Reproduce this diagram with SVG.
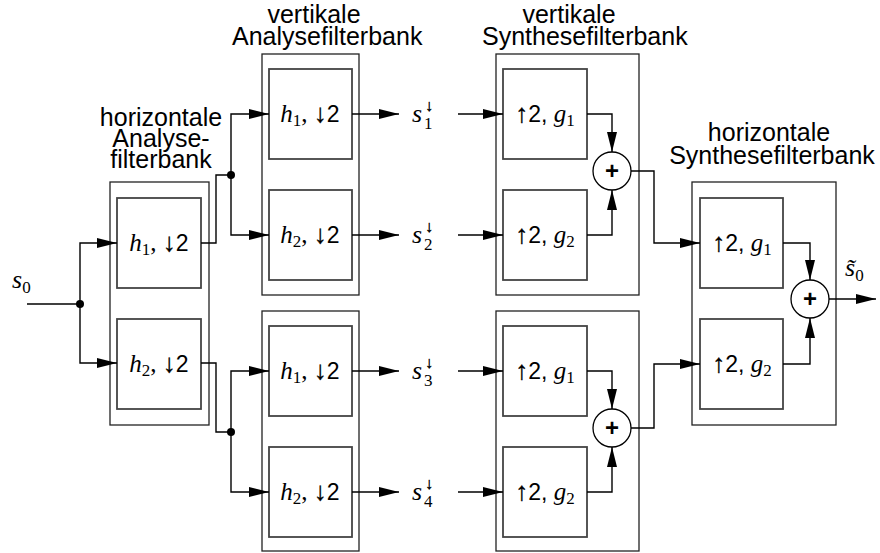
<svg xmlns="http://www.w3.org/2000/svg" width="880" height="553" viewBox="0 0 880 553">
  <defs>
    <marker id="ah" markerUnits="userSpaceOnUse" markerWidth="21" markerHeight="11" refX="20" refY="5" orient="auto" overflow="visible">
      <path d="M0,0 L20,5 L0,10 Z" fill="#000"/>
    </marker>
    <style>
      .outer { fill: #fff; stroke: #222; stroke-width: 1.3; }
      .inner { fill: #fff; stroke: #444; stroke-width: 1.8; }
      .sum { fill: #fff; stroke: #000; stroke-width: 1.3; }
      .wire { fill: none; stroke: #000; stroke-width: 1.4; }
      .arr { fill: none; stroke: #000; stroke-width: 1.4; marker-end: url(#ah); }
      .dot { fill: #000; }
      .title { font-family: "Liberation Sans", Arial, sans-serif; font-size: 25px; fill: #000; }
      .mid { text-anchor: middle; }
      .lbl { font-family: "Liberation Sans", Arial, sans-serif; font-size: 23px; fill: #000; text-anchor: middle; }
      .mi { font-family: "Liberation Serif", "Times New Roman", serif; font-style: italic; font-size: 25px; }
      .mr { font-family: "Liberation Serif", "Times New Roman", serif; font-size: 25px; }
      .sub { font-family: "Liberation Serif", "Times New Roman", serif; font-size: 17px; }
      .ar { font-family: "Liberation Serif", "DejaVu Serif", serif; font-size: 26px; stroke: #000; stroke-width: 0.35; }
      .sig { font-family: "Liberation Serif", "Times New Roman", serif; fill: #000; }
      .sup { font-family: "Liberation Serif", "DejaVu Serif", serif; font-size: 16px; fill: #000; stroke: #000; stroke-width: 0.4; }
      .plus { font-family: "Liberation Sans", Arial, sans-serif; font-weight: bold; font-size: 24px; fill: #000; text-anchor: middle; }
    </style>
  </defs>

  <!-- horizontal analysis filter bank -->
  <g id="h-analyse">
    <text class="title mid" x="161" y="126" font-size="24">horizontale</text>
    <text class="title mid" x="161" y="147" font-size="24">Analyse-</text>
    <text class="title mid" x="161" y="168" font-size="24">filterbank</text>
    <rect class="outer" x="110" y="182" width="99" height="243"/>
    <rect class="inner" x="117" y="198" width="84" height="90"/>
    <rect class="inner" x="117" y="319" width="84" height="90"/>
    <text class="lbl" x="159" y="251"><tspan class="mi">h</tspan><tspan class="sub" dy="4">1</tspan><tspan class="mr" dy="-4">, </tspan><tspan class="ar">↓</tspan>2</text>
    <text class="lbl" x="159" y="372"><tspan class="mi">h</tspan><tspan class="sub" dy="4">2</tspan><tspan class="mr" dy="-4">, </tspan><tspan class="ar">↓</tspan>2</text>
  </g>

  <!-- vertical analysis filter bank, upper branch -->
  <g id="v-analyse-1">
    <text class="title mid" x="314" y="23">vertikale</text>
    <text class="title" x="232" y="45">Analysefilterbank</text>
    <rect class="outer" x="262" y="54" width="97" height="241"/>
    <rect class="inner" x="269" y="69" width="83" height="90"/>
    <rect class="inner" x="269" y="190" width="83" height="90"/>
    <text class="lbl" x="310" y="122"><tspan class="mi">h</tspan><tspan class="sub" dy="4">1</tspan><tspan class="mr" dy="-4">, </tspan><tspan class="ar">↓</tspan>2</text>
    <text class="lbl" x="310" y="243"><tspan class="mi">h</tspan><tspan class="sub" dy="4">2</tspan><tspan class="mr" dy="-4">, </tspan><tspan class="ar">↓</tspan>2</text>
  </g>

  <!-- vertical analysis filter bank, lower branch -->
  <g id="v-analyse-2">
    <rect class="outer" x="262" y="311" width="97" height="240"/>
    <rect class="inner" x="269" y="326" width="83" height="90"/>
    <rect class="inner" x="269" y="447" width="83" height="90"/>
    <text class="lbl" x="310" y="379"><tspan class="mi">h</tspan><tspan class="sub" dy="4">1</tspan><tspan class="mr" dy="-4">, </tspan><tspan class="ar">↓</tspan>2</text>
    <text class="lbl" x="310" y="500"><tspan class="mi">h</tspan><tspan class="sub" dy="4">2</tspan><tspan class="mr" dy="-4">, </tspan><tspan class="ar">↓</tspan>2</text>
  </g>

  <!-- subband signals -->
  <g id="subbands">
    <text class="sig" font-size="26" font-style="italic" x="412" y="122">s</text>
    <text class="sup" x="425" y="111">↓</text>
    <text class="sig" font-size="17" x="424" y="129">1</text>
    <text class="sig" font-size="26" font-style="italic" x="412" y="243">s</text>
    <text class="sup" x="425" y="232">↓</text>
    <text class="sig" font-size="17" x="424" y="250">2</text>
    <text class="sig" font-size="26" font-style="italic" x="412" y="379">s</text>
    <text class="sup" x="425" y="368">↓</text>
    <text class="sig" font-size="17" x="424" y="386">3</text>
    <text class="sig" font-size="26" font-style="italic" x="412" y="500">s</text>
    <text class="sup" x="425" y="489">↓</text>
    <text class="sig" font-size="17" x="424" y="507">4</text>
  </g>

  <!-- vertical synthesis filter bank, upper branch -->
  <g id="v-synthese-1">
    <text class="title mid" x="569" y="23">vertikale</text>
    <text class="title" x="482" y="45">Synthesefilterbank</text>
    <rect class="outer" x="496" y="54" width="143" height="241"/>
    <rect class="inner" x="503" y="69" width="84" height="90"/>
    <rect class="inner" x="503" y="190" width="84" height="90"/>
    <text class="lbl" x="545" y="122"><tspan class="ar">↑</tspan>2, <tspan class="mi">g</tspan><tspan class="sub" dy="4">1</tspan></text>
    <text class="lbl" x="545" y="243"><tspan class="ar">↑</tspan>2, <tspan class="mi">g</tspan><tspan class="sub" dy="4">2</tspan></text>
    <circle class="sum" cx="612" cy="171" r="19"/>
    <text class="plus" x="612" y="179">+</text>
  </g>

  <!-- vertical synthesis filter bank, lower branch -->
  <g id="v-synthese-2">
    <rect class="outer" x="496" y="311" width="143" height="240"/>
    <rect class="inner" x="503" y="326" width="84" height="90"/>
    <rect class="inner" x="503" y="447" width="84" height="90"/>
    <text class="lbl" x="545" y="379"><tspan class="ar">↑</tspan>2, <tspan class="mi">g</tspan><tspan class="sub" dy="4">1</tspan></text>
    <text class="lbl" x="545" y="500"><tspan class="ar">↑</tspan>2, <tspan class="mi">g</tspan><tspan class="sub" dy="4">2</tspan></text>
    <circle class="sum" cx="612" cy="428" r="19"/>
    <text class="plus" x="612" y="436">+</text>
  </g>

  <!-- horizontal synthesis filter bank -->
  <g id="h-synthese">
    <text class="title mid" x="769" y="141">horizontale</text>
    <text class="title mid" x="772" y="164">Synthesefilterbank</text>
    <rect class="outer" x="692" y="182" width="144" height="243"/>
    <rect class="inner" x="700" y="198" width="83" height="90"/>
    <rect class="inner" x="700" y="319" width="83" height="90"/>
    <text class="lbl" x="742" y="251"><tspan class="ar">↑</tspan>2, <tspan class="mi">g</tspan><tspan class="sub" dy="4">1</tspan></text>
    <text class="lbl" x="742" y="372"><tspan class="ar">↑</tspan>2, <tspan class="mi">g</tspan><tspan class="sub" dy="4">2</tspan></text>
    <circle class="sum" cx="810" cy="299" r="19"/>
    <text class="plus" x="810" y="307">+</text>
  </g>

  <!-- input and output signals -->
  <g id="signals">
    <text class="sig" x="12" y="288"><tspan font-size="26" font-style="italic">s</tspan><tspan font-size="17" dy="5">0</tspan></text>
    <text class="sig" x="845" y="276"><tspan font-size="26" font-style="italic">s̃</tspan><tspan font-size="17" dy="5">0</tspan></text>
  </g>

  <!-- connectors -->
  <g id="connectors">
    <path class="wire" d="M27,304 H80"/>
    <path class="arr" d="M80,304 V243 H117"/>
    <path class="arr" d="M80,304 V363 H117"/>
    <circle class="dot" cx="80" cy="304" r="4"/>

    <path class="wire" d="M201,243 H216 V175 H231"/>
    <path class="arr" d="M231,175 V114 H269"/>
    <path class="arr" d="M231,175 V235 H269"/>
    <circle class="dot" cx="231" cy="175" r="4"/>

    <path class="wire" d="M201,363 H216 V432 H231"/>
    <path class="arr" d="M231,432 V371 H269"/>
    <path class="arr" d="M231,432 V492 H269"/>
    <circle class="dot" cx="231" cy="432" r="4"/>

    <path class="arr" d="M352,114 H399"/>
    <path class="arr" d="M352,235 H399"/>
    <path class="arr" d="M352,371 H399"/>
    <path class="arr" d="M352,492 H399"/>

    <path class="arr" d="M458,114 H503"/>
    <path class="arr" d="M458,235 H503"/>
    <path class="arr" d="M458,371 H503"/>
    <path class="arr" d="M458,492 H503"/>

    <path class="arr" d="M587,114 H612 V152"/>
    <path class="arr" d="M587,235 H612 V190"/>
    <path class="arr" d="M631,171 H654 V243 H700"/>

    <path class="arr" d="M587,371 H612 V409"/>
    <path class="arr" d="M587,492 H612 V447"/>
    <path class="arr" d="M631,428 H654 V364 H700"/>

    <path class="arr" d="M783,243 H810 V280"/>
    <path class="arr" d="M783,364 H810 V318"/>
    <path class="arr" d="M829,299 H876"/>
  </g>
</svg>
